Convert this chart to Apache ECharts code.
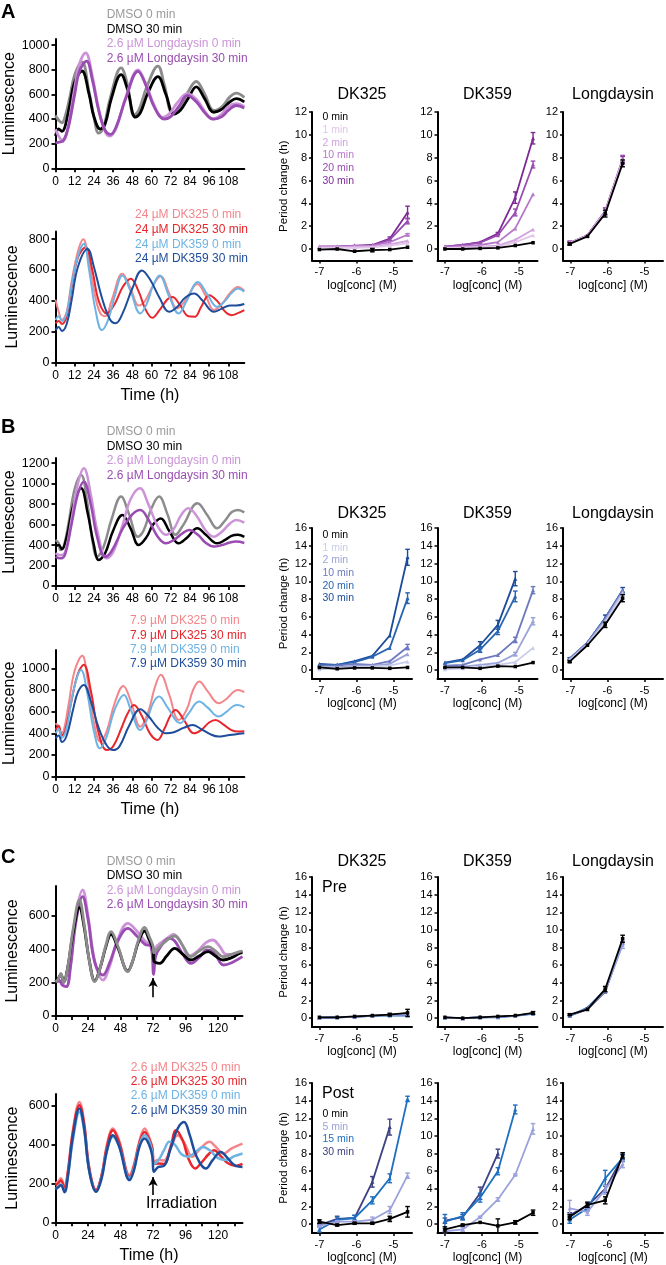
<!DOCTYPE html>
<html><head><meta charset="utf-8">
<script src="https://cdn.jsdelivr.net/npm/echarts@6.0.0/dist/echarts.min.js"></script>
<style>html,body{margin:0;padding:0;background:#fff;}#chart{width:666px;height:1265px;}</style>
</head><body><div id="chart"></div>
<script>
// ---------------- DATA ----------------
// Time series (time h, luminescence)
const aTopDmso0 = [[0,430],[2,390],[4,370],[6,420],[9,580],[12,760],[16.5,865],[21,620],[24,420],[27,285],[30,330],[34,560],[41,815],[45,680],[49,430],[52,470],[57,660],[64,830],[68,680],[73,455],[77,480],[82,600],[88,705],[93,610],[99,470],[104,500],[109,580],[113,610],[118,575]];
const aTopDmso30 = [[0,262],[2,320],[4,300],[6,340],[9,520],[12,700],[16.5,790],[21,600],[24,420],[28,318],[31,360],[35,570],[41,760],[45,640],[50,415],[53,450],[58,620],[64,745],[69,600],[74,440],[78,470],[83,570],[88,662],[93,570],[99,455],[104,480],[109,540],[113,566],[118,540]];
const aTopLd0 = [[0,317],[3,240],[5,230],[8,350],[12,650],[15,850],[18.8,938],[23,750],[27,480],[31,300],[34,262],[38,330],[44,580],[51.6,800],[56,700],[62,500],[67,414],[71,440],[76,530],[82.5,607],[88,560],[94,450],[98,400],[103,430],[108,500],[113,524],[118,500]];
const aTopLd30 = [[0,207],[3,215],[5,225],[8,330],[12,600],[15,790],[19.4,870],[23,720],[27,470],[31,310],[34.4,276],[38,340],[44,570],[51.6,787],[56,690],[62,490],[68,400],[72,420],[77,500],[82.5,593],[88,540],[94,440],[99,400],[104,420],[108,470],[113,510],[118,490]];

const aBotDK325_0 = [[0,408],[2,330],[4,275],[7,330],[10,520],[14,720],[17.3,800],[21,650],[25,420],[28,320],[31,300],[35,400],[41.8,576],[47,480],[52,370],[56,400],[61,500],[65.7,560],[71,450],[76,350],[81,400],[88.7,510],[94,430],[99,340],[104,380],[109,450],[114,490],[118,465]];
const aBotDK325_30 = [[0,254],[2,270],[4,250],[7,300],[10,480],[14,680],[18.8,748],[23,600],[27,400],[32,318],[37,380],[42,490],[47,544],[52,460],[56,350],[60.5,290],[65,340],[70,410],[73,425],[78,370],[83,300],[87,297],[91,360],[96,436],[101,400],[106,330],[110,307],[114,320],[118,340]];
const aBotDK359_0 = [[0,275],[2,300],[4,270],[7,320],[10,500],[14,690],[17.7,770],[21,600],[25,340],[29,210],[33,280],[37,430],[41.8,565],[47,460],[53,318],[57,380],[61,500],[65,565],[71,430],[77,318],[82,400],[89,522],[95,440],[101,361],[106,400],[110,450],[114,480],[118,460]];
const aBotDK359_30 = [[0,210],[2,230],[4,205],[7,250],[10,400],[14,620],[20,737],[24,620],[29,420],[34,280],[37.6,254],[42,320],[48,480],[54,597],[59,540],[65,420],[71,329],[76,360],[81,420],[86.6,447],[92,400],[99,329],[104,350],[109,370],[113,370],[118,380]];

const bTopDmso0 = [[0,450],[2,420],[3,352],[5,380],[8,600],[12,950],[16,1086],[20,800],[23,450],[26,287],[30,380],[35,650],[41,874],[46,700],[51.5,482],[55,540],[60,760],[64.7,874],[70,700],[75,500],[80,600],[88.7,808],[95,690],[101,564],[106,640],[110,720],[114,743],[118,720]];
const bTopDmso30 = [[0,385],[2,400],[4,360],[7,480],[11,780],[16,955],[20,720],[24,400],[27,254],[31,320],[36,540],[41.8,694],[47,560],[52,400],[57,480],[61,600],[65.8,660],[71,540],[77,417],[82,470],[88.7,564],[94,500],[101,417],[106,450],[110,490],[114,500],[118,480]];
const bTopLd0 = [[0,320],[3,300],[6,330],[10,650],[14,1000],[17.7,1150],[22,900],[26,550],[32,270],[36,330],[42,600],[47,850],[52.8,955],[58,800],[64,580],[69,500],[74,560],[78,680],[83,760],[88,690],[94,540],[99,482],[104,530],[109,610],[113,645],[118,620]];
const bTopLd30 = [[0,287],[3,270],[6,310],[10,600],[14,900],[17.7,1020],[22,800],[26,480],[31,287],[35,340],[42,560],[48,700],[53,743],[58,650],[64,480],[69,417],[74,450],[79,510],[83.5,548],[89,500],[94,420],[99,385],[104,400],[109,425],[113,434],[118,420]];

const bBotDK325_0 = [[0,493],[2,460],[3,400],[5,420],[8,650],[12,980],[16.7,1115],[20,900],[24,500],[28,323],[32,420],[37,680],[42.4,838],[47,700],[53,462],[58,600],[62,820],[65.8,940],[71,760],[77,524],[82,620],[86,800],[89.8,878],[95,790],[102,678],[107,720],[111,780],[114,800],[118,780]];
const bBotDK325_30 = [[0,431],[2,470],[4,380],[6,420],[10,700],[14,950],[17.7,1032],[22,800],[27,400],[32,246],[36,280],[41,440],[45,580],[49,662],[54,560],[59,400],[63.7,339],[68,440],[72,570],[75,616],[80,530],[86.6,400],[91,430],[96,500],[100,524],[105,480],[110,430],[114,416],[118,420]];
const bBotDK359_0 = [[0,400],[2,440],[4,360],[7,450],[11,780],[16,985],[20,760],[24,420],[27.8,262],[32,370],[37,620],[42.8,755],[47,620],[53,431],[57,520],[61,680],[64.7,740],[70,640],[78,493],[83,580],[89.8,693],[95,640],[102,555],[107,600],[111,650],[114,662],[118,640]];
const bBotDK359_30 = [[0,354],[2,380],[4,320],[7,380],[11,620],[14,780],[17.7,847],[22,700],[27,450],[32,290],[36,246],[40,280],[46,470],[53,622],[58,560],[64,450],[69,400],[74,410],[80,450],[85.6,477],[91,440],[97,390],[102,370],[107,380],[112,390],[118,400]];

const cTopDmso0 = [[0,206],[2,220],[4,256],[6,200],[9,290],[13,520],[17.7,696],[21,560],[25,330],[29,206],[33,290],[37,420],[41,506],[46,420],[53.4,266],[57,330],[61,450],[65.8,532],[69,480],[72,420],[72.6,380],[75,400],[80,440],[88,480],[94,420],[100,356],[106,390],[112.6,416],[118,390],[123.6,356],[130,370],[136,386],[138,390]];
const cTopDmso30 = [[0,206],[2,225],[4,250],[6,205],[9,290],[13,500],[17.7,650],[21,540],[25,330],[29,210],[33,290],[37,410],[41,490],[46,410],[53.4,270],[57,330],[61,440],[65.8,510],[69,460],[72,400],[72.6,330],[74,320],[77,316],[82,360],[88,406],[94,370],[100,336],[106,360],[112.6,386],[118,360],[123.6,336],[130,350],[136,376],[138,380]];
const cTopLd0 = [[0,206],[3,215],[5,190],[8,176],[11,300],[15,600],[20,756],[24,600],[29,330],[35,216],[40,300],[46,460],[53.4,556],[60,510],[66,450],[70.5,420],[72.4,330],[74,410],[78,440],[83,470],[87,490],[92,450],[99,360],[105,390],[111,440],[116,456],[121,420],[126,370],[132,370],[138,390]];
const cTopLd30 = [[0,206],[3,210],[5,185],[8,176],[11,290],[15,560],[20,716],[24,580],[29,320],[35,246],[40,320],[46,450],[53.4,526],[60,480],[66,430],[70.5,416],[72.4,250],[74,360],[78,420],[84,466],[88,450],[94,370],[100,316],[106,350],[112,396],[117,380],[124,306],[130,320],[138,356]];

const cBotDK325_0 = [[0,200],[2,210],[4,226],[6.7,183],[9,260],[13,480],[17.7,619],[21,520],[25,280],[30,166],[34,240],[38,400],[42.4,482],[47,420],[54.7,243],[58,300],[62,420],[65.8,482],[69,440],[71.5,380],[72.5,311],[76,320],[80,318],[85,380],[90,448],[95,410],[101,337],[107,380],[113.8,414],[118,390],[124,354],[130,380],[138,405]];
const cBotDK325_30 = [[0,190],[2,200],[4,215],[6.7,175],[9,250],[13,470],[17.7,602],[21,510],[25,270],[30,166],[34,240],[38,390],[42.4,474],[47,410],[54.7,234],[58,290],[62,410],[65.8,465],[69,430],[71.5,380],[72.5,300],[76,303],[80,300],[85,390],[89,474],[94,420],[98,330],[103,277],[108,310],[113,350],[117,371],[122,340],[127,305],[133,290],[138,300]];
const cBotDK359_0 = [[0,170],[2,185],[4,195],[6.7,160],[9,230],[13,430],[17.7,568],[21,480],[25,260],[30,157],[34,230],[38,370],[42.4,440],[47,390],[54.7,226],[58,280],[62,400],[65.8,448],[69,420],[71.5,360],[72.5,300],[76,320],[80,370],[84,414],[88,400],[93,350],[98,337],[103,360],[109,388],[114,370],[120,330],[126,320],[132,340],[138,354]];
const cBotDK359_30 = [[0,170],[2,180],[4,190],[6.7,155],[9,230],[13,450],[17.7,585],[21,490],[25,260],[30,157],[34,225],[38,370],[42.4,448],[47,390],[54.7,217],[58,270],[62,390],[65.8,431],[69,400],[71.5,340],[72.5,260],[76,285],[80,290],[85,380],[90,480],[94.8,516],[99,450],[104,340],[111,277],[116,320],[122,362],[127,330],[133,290],[138,285]];

// arrows: [time, tail value, head value]
const cTopArrow = [72, 112, 228];
const cBotArrow = [72, 140, 233];

// tick values
const timeTicksAB = [0,12,24,36,48,60,72,84,96,108];
const timeTicksC = [0,12,24,36,48,60,72,84,96,108,120,132];
const timeLabelsC = [0,24,48,72,96,120];
const lumTicksA1 = [0,200,400,600,800,1000];
const lumTicksA2 = [0,200,400,600,800];
const lumTicksB1 = [0,200,400,600,800,1000,1200];
const lumTicksB2 = [0,200,400,600,800,1000];
const lumTicksC = [0,200,400,600];

// dose-response
const concDK = [-7.0, -6.52, -6.05, -5.57, -5.1, -4.62];
const concLd = [-7.02, -6.54, -6.06, -5.59];
const logTicks = [-7, -6, -5];
const periodTicks12 = [0,2,4,6,8,10,12];
const periodTicks16 = [0,2,4,6,8,10,12,14,16];
const minLabelsAB = ['0 min','1 min','2 min','10 min','20 min','30 min'];
const minLabelsC = ['0 min','5 min','15 min','30 min'];

const aDK325 = [[-0.05,0.0,-0.2,-0.1,-0.05,0.15],[0.1,0.1,0.1,0.15,0.3,0.5],[0.15,0.15,0.2,0.2,0.4,0.7],[0.2,0.2,0.25,0.3,0.6,1.25],[0.2,0.2,0.25,0.3,0.8,2.45],[0.2,0.2,0.3,0.35,0.9,3.2]];
const aDK325Err = [[0,0,0,0.15,0,0],[0,0,0,0,0,0],[0,0,0,0,0,0],[0,0,0,0,0,0.1],[0,0,0,0,0,0.25],[0,0,0,0,0.15,0.55]];
const aDK359 = [[0.0,0.0,0.05,0.1,0.3,0.55],[0.1,0.1,0.15,0.2,0.6,1.2],[0.1,0.15,0.2,0.3,0.8,1.7],[0.15,0.25,0.35,0.6,1.8,4.8],[0.2,0.35,0.55,1.2,3.2,7.4],[0.2,0.35,0.6,1.35,4.5,9.7]];
const aDK359Err = [[0,0,0,0,0,0],[0,0,0,0,0,0],[0,0,0,0,0,0],[0,0,0,0,0,0],[0,0,0,0,0.3,0.3],[0,0,0,0.1,0.5,0.5]];
const aLd = [[0.45,1.1,3.1,7.5],[0.5,1.15,3.2,7.7],[0.5,1.15,3.25,7.8],[0.55,1.2,3.3,7.8],[0.55,1.2,3.3,7.9],[0.5,1.2,3.3,7.8]];
const aLdErr = [[0.1,0,0.3,0.3],[0,0,0,0],[0,0,0,0],[0,0,0,0],[0.15,0,0.3,0.3],[0.15,0,0.3,0.3]];

const bDK325 = [[0.3,0.15,0.25,0.25,0.2,0.3],[0.1,0.2,0.3,0.4,0.5,0.95],[0.3,0.3,0.5,0.5,0.7,1.8],[0.5,0.5,0.7,0.6,1.0,2.6],[0.6,0.6,0.9,1.5,2.5,8.1],[0.7,0.6,1.0,1.6,3.9,12.7]];
const bDK325Err = [[0,0,0,0,0,0],[0,0,0,0,0,0],[0,0,0,0,0,0],[0,0,0,0,0,0.3],[0,0,0,0,0,0.6],[0,0,0,0,0,0.9]];
const bDK359 = [[0.3,0.3,0.2,0.45,0.4,0.85],[0.1,0.2,0.4,0.6,0.9,2.5],[0.3,0.4,0.6,0.8,1.8,5.5],[0.5,0.6,1.2,1.7,3.4,9.0],[0.8,1.1,2.3,4.4,8.3,null],[0.85,1.2,2.8,5.1,10.3,null]];
const bDK359Err = [[0,0,0,0,0,0],[0,0,0,0,0,0],[0,0,0,0,0.2,0.4],[0,0,0,0,0.3,0.4],[0,0,0.3,0.4,0.6,0],[0,0,0.4,0.5,0.8,0]];
const bLd = [[0.95,2.8,5.1,8.1],[1.1,2.9,5.4,8.6],[1.2,3.0,5.6,8.8],[1.3,3.1,5.8,9.0],[1.3,3.1,5.8,9.0],[1.3,3.1,5.9,9.0]];
const bLdErr = [[0.1,0,0.3,0.4],[0,0,0,0],[0,0,0,0],[0,0,0,0],[0,0,0,0],[0.1,0,0.3,0.3]];

const cPre325 = [[0.1,0.1,0.2,0.3,0.4,0.6],[0.05,0.1,0.15,0.25,0.35,0.4],[0.05,0.1,0.15,0.25,0.3,0.3],[0.05,0.1,0.15,0.3,0.4,0.5]];
const cPre325Err = [[0,0,0,0,0.15,0.4],[0,0,0,0,0,0],[0,0,0,0,0,0],[0,0,0,0,0,0]];
const cPre359 = [[0.1,0.0,0.1,0.2,0.3,0.6],[0.05,0,0.1,0.15,0.25,0.55],[0.05,0,0.1,0.1,0.25,0.5],[0.05,0,0.1,0.15,0.3,0.55]];
const cPre359Err = [[0,0,0,0,0,0.15],[0,0,0,0,0,0],[0,0,0,0,0,0],[0,0,0,0,0,0]];
const cPreLd = [[0.4,1.0,3.3,9.0],[0.3,1.1,3.1,8.3],[0.25,1.2,3.2,8.5],[0.3,1.0,3.0,8.6]];
const cPreLdErr = [[0.1,0,0.3,0.4],[0,0,0.2,0.4],[0,0,0,0],[0,0,0,0]];

const cPost325 = [[0.3,-0.1,0.1,0.1,0.6,1.4],[-0.2,0.3,0.3,0.5,1.6,5.5],[-0.6,0.5,0.7,2.7,5.2,14.2],[-0.1,0.6,0.7,4.8,11.0,null]];
const cPost325Err = [[0.2,0.1,0.1,0.1,0.3,0.6],[0.1,0.1,0.1,0.3,0.4,0.3],[0.3,0.3,0.3,0.4,0.5,0.3],[0.1,0.3,0.3,0.6,0.9,0]];
const cPost359 = [[-0.6,-0.1,0.2,-0.2,0.2,1.3],[-0.8,-0.6,0.8,2.8,5.6,10.8],[0.3,0.9,3.0,6.0,13.0,null],[0.4,0.8,3.5,8.0,null,null]];
const cPost359Err = [[0.3,0.1,0,0.8,0.2,0.3],[0.1,0.2,0.1,0.2,0.1,0.6],[0.8,0.4,0.5,0.4,0.5,0],[0.3,0.3,0.7,0.5,0,0]];
const cPostLd = [[0.8,2.2,2.7,7.8],[1.8,1.4,3.9,6.8],[0.5,1.8,5.2,7.5],[1.0,2.1,4.0,7.6]];
const cPostLdErr = [[0.3,0.3,0.4,0.3],[0.9,0.4,0.5,0.4],[0.4,0.3,0.9,0.4],[0.3,0.3,0.4,0.3]];

// ---------------- STYLE ----------------
const FONT = "'Liberation Sans', Arial, Helvetica, sans-serif";
const GRAY = '#8c8c8c', BLACK = '#000000', LPUR = '#cc93d8', DPUR = '#9a4cb3';
const PINK = '#f4868b', RED = '#e8262c', LBLUE = '#6db4e4', DBLUE = '#1e4d9b';
const colorsA = ['#000000','#e2c6ea','#d3a3df','#b678c9','#9a4cb2','#7d2a98'];
const colorsB = ['#000000','#c9cdea','#9ca3d8','#6d7ac0','#2865b2','#1b4b99'];
const colorsC = ['#000000','#9ca2dc','#1e6fc2','#3e4182'];
const plain = v => String(v);

const grids = [], xAxes = [], yAxes = [], series = [], graphics = [];

function addLeft(p) {
  const gi = grids.length;
  grids.push({left:p.left, top:p.top, width:p.width, height:p.height, containLabel:false});
  xAxes.push({
    type:'value', gridIndex:gi, min:0, max:p.xMax,
    name:p.xName || '', nameLocation:'middle', nameGap:25,
    nameTextStyle:{fontSize:16, color:'#000', fontFamily:FONT},
    axisLine:{show:true, onZero:false, lineStyle:{color:'#000', width:2}},
    axisTick:{show:true, inside:false, length:4, customValues:p.xTicks, lineStyle:{color:'#000', width:1.8}},
    axisLabel:{show:true, customValues:p.xLabels, formatter:plain, margin:7, fontSize:12, color:'#000', fontFamily:FONT, hideOverlap:false},
    splitLine:{show:false}
  });
  yAxes.push({
    type:'value', gridIndex:gi, min:0, max:p.yMax,
    name:'Luminescence', nameLocation:'middle', nameGap:35,
    nameTextStyle:{fontSize:16, color:'#000', fontFamily:FONT},
    axisLine:{show:true, onZero:false, lineStyle:{color:'#000', width:2}},
    axisTick:{show:true, length:4, customValues:p.yTicks, lineStyle:{color:'#000', width:1.8}},
    axisLabel:{show:true, customValues:p.yTicks, formatter:plain, margin:6, fontSize:12.5, color:'#000', fontFamily:FONT, hideOverlap:false},
    splitLine:{show:false}
  });
  p.series.forEach((s, k) => {
    const ser = {type:'line', xAxisIndex:gi, yAxisIndex:gi, data:s.data, smooth:0.4, symbol:'none',
      lineStyle:{color:s.color, width:p.lw}, itemStyle:{color:s.color}, z:(s.z || (2 + k)), silent:true};
    if (k === 0 && p.arrow) {
      ser.markLine = {silent:true, animation:false, symbol:['none','arrow'], symbolSize:[7,9],
        lineStyle:{color:'#000', width:1.6, type:'solid'}, label:{show:false},
        data:[[{coord:[p.arrow[0], p.arrow[1]]}, {coord:[p.arrow[0], p.arrow[2]]}]]};
    }
    series.push(ser);
  });
  p.legend.forEach((t, k) => {
    graphics.push({type:'text', x:p.legendX, y:p.legendY + k * p.legendStep, z:100,
      style:{text:t, fill:p.series[k].text || p.series[k].color, font:'12px ' + FONT, align:'left', verticalAlign:'middle'}});
  });
  return gi;
}

function errRender(color) {
  return function (params, api) {
    const x = api.value(0), y = api.value(1), e = api.value(2);
    const a = api.coord([x, y - e]), b = api.coord([x, y + e]);
    const w = 2.3;
    const st = {stroke:color, lineWidth:1.4};
    return {type:'group', children:[
      {type:'line', shape:{x1:a[0], y1:a[1], x2:b[0], y2:b[1]}, style:st},
      {type:'line', shape:{x1:a[0]-w, y1:a[1], x2:a[0]+w, y2:a[1]}, style:st},
      {type:'line', shape:{x1:b[0]-w, y1:b[1], x2:b[0]+w, y2:b[1]}, style:st}
    ]};
  };
}

function addSmall(p) {
  const gi = grids.length;
  grids.push({left:p.left, top:p.top, width:100, height:p.height, containLabel:false});
  xAxes.push({
    type:'value', gridIndex:gi, min:-7.2, max:-4.5,
    name:'log[conc] (M)', nameLocation:'middle', nameGap:19,
    nameTextStyle:{fontSize:12, color:'#000', fontFamily:FONT},
    axisLine:{show:true, onZero:false, lineStyle:{color:'#000', width:2}},
    axisTick:{show:true, length:3, customValues:logTicks, lineStyle:{color:'#000', width:1.5}},
    axisLabel:{show:true, customValues:logTicks, formatter:plain, margin:6, fontSize:11, color:'#000', fontFamily:FONT, hideOverlap:false},
    splitLine:{show:false}
  });
  yAxes.push({
    type:'value', gridIndex:gi, min:-1, max:p.yMax,
    name:p.yName || '', nameLocation:'middle', nameGap:22,
    nameTextStyle:{fontSize:11.5, color:'#000', fontFamily:FONT},
    axisLine:{show:true, onZero:false, lineStyle:{color:'#000', width:2}},
    axisTick:{show:true, length:3, customValues:p.yTicks, lineStyle:{color:'#000', width:1.5}},
    axisLabel:{show:true, customValues:p.yTicks, formatter:plain, margin:5, fontSize:11, color:'#000', fontFamily:FONT, hideOverlap:false},
    splitLine:{show:false}
  });
  const n = p.data.length;
  for (let i = n - 1; i >= 0; i--) {
    const col = p.colors[i];
    const pts = [], errs = [];
    p.data[i].forEach((v, j) => {
      if (v === null) return;
      pts.push([p.xs[j], v]);
      const e = p.err[i][j];
      if (e > 0) errs.push([p.xs[j], v, e]);
    });
    series.push({type:'line', xAxisIndex:gi, yAxisIndex:gi, data:pts, symbol:i === 0 ? 'rect' : 'triangle',
      symbolSize:i === 0 ? 3.5 : 4, lineStyle:{color:col, width:1.8}, itemStyle:{color:col}, z:10 + (n - i), silent:true});
    if (errs.length) {
      series.push({type:'custom', xAxisIndex:gi, yAxisIndex:gi, data:errs, renderItem:errRender(col), z:10 + (n - i), silent:true});
    }
  }
  if (p.title) {
    graphics.push({type:'text', x:p.left + 50, y:p.titleY, z:100,
      style:{text:p.title, fill:'#000', font:'16px ' + FONT, align:'center', verticalAlign:'middle'}});
  }
  if (p.tag) {
    graphics.push({type:'text', x:p.left + 10, y:p.tagY, z:100,
      style:{text:p.tag, fill:'#000', font:'16px ' + FONT, align:'left', verticalAlign:'middle'}});
  }
  if (p.legend) {
    p.legend.forEach((t, k) => {
      graphics.push({type:'text', x:p.left + 10.5, y:p.legendY + k * p.legendStep, z:100,
        style:{text:t, fill:p.colors[k], font:'10.5px ' + FONT, align:'left', verticalAlign:'middle'}});
    });
  }
  return gi;
}

// ---------------- LEFT PANELS ----------------
const L = 55.5;
addLeft({left:L, top:39, width:188.8, height:129.3, xMax:118, yMax:1050, xTicks:timeTicksAB, xLabels:timeTicksAB, yTicks:lumTicksA1, lw:2.8,
  series:[{data:aTopDmso0, color:GRAY, text:'#9a9a9a'}, {data:aTopDmso30, color:BLACK}, {data:aTopLd0, color:LPUR}, {data:aTopLd30, color:DPUR}],
  legend:['DMSO 0 min','DMSO 30 min','2.6 µM Longdaysin 0 min','2.6 µM Longdaysin 30 min'], legendX:106.7, legendY:14.7, legendStep:14.6});
addLeft({left:L, top:231.5, width:188.8, height:131, xMax:118, yMax:850, xTicks:timeTicksAB, xLabels:timeTicksAB, yTicks:lumTicksA2, lw:2, xName:'Time (h)',
  series:[{data:aBotDK325_0, color:PINK}, {data:aBotDK325_30, color:RED}, {data:aBotDK359_0, color:LBLUE}, {data:aBotDK359_30, color:DBLUE}],
  legend:['24 µM DK325 0 min','24 µM DK325 30 min','24 µM DK359 0 min','24 µM DK359 30 min'], legendX:135, legendY:215, legendStep:14.7});
addLeft({left:L, top:458.1, width:188.8, height:127.9, xMax:118, yMax:1250, xTicks:timeTicksAB, xLabels:timeTicksAB, yTicks:lumTicksB1, lw:2.5,
  series:[{data:bTopDmso0, color:GRAY, text:'#9a9a9a'}, {data:bTopDmso30, color:BLACK}, {data:bTopLd0, color:LPUR}, {data:bTopLd30, color:DPUR}],
  legend:['DMSO 0 min','DMSO 30 min','2.6 µM Longdaysin 0 min','2.6 µM Longdaysin 30 min'], legendX:106.7, legendY:432, legendStep:14.5});
addLeft({left:L, top:649.9, width:188.8, height:126.8, xMax:118, yMax:1170, xTicks:timeTicksAB, xLabels:timeTicksAB, yTicks:lumTicksB2, lw:2, xName:'Time (h)',
  series:[{data:bBotDK325_0, color:PINK}, {data:bBotDK325_30, color:RED}, {data:bBotDK359_0, color:LBLUE}, {data:bBotDK359_30, color:DBLUE}],
  legend:['7.9 µM DK325 0 min','7.9 µM DK325 30 min','7.9 µM DK359 0 min','7.9 µM DK359 30 min'], legendX:130, legendY:621, legendStep:14.3});
addLeft({left:L, top:886, width:187, height:130, xMax:138, yMax:780, xTicks:timeTicksC, xLabels:timeLabelsC, yTicks:lumTicksC, lw:2.8, arrow:cTopArrow,
  series:[{data:cTopDmso0, color:GRAY, text:'#9a9a9a', z:6}, {data:cTopDmso30, color:BLACK, z:5}, {data:cTopLd0, color:LPUR, z:3}, {data:cTopLd30, color:DPUR, z:4}],
  legend:['DMSO 0 min','DMSO 30 min','2.6 µM Longdaysin 0 min','2.6 µM Longdaysin 30 min'], legendX:106.7, legendY:861.7, legendStep:14.3});
const cBotGi = addLeft({left:L, top:1094, width:187, height:128.3, xMax:138, yMax:660, xTicks:timeTicksC, xLabels:timeLabelsC, yTicks:lumTicksC, lw:2.5, xName:'Time (h)', arrow:cBotArrow,
  series:[{data:cBotDK325_0, color:PINK}, {data:cBotDK325_30, color:RED}, {data:cBotDK359_0, color:LBLUE}, {data:cBotDK359_30, color:DBLUE}],
  legend:['2.6 µM DK325 0 min','2.6 µM DK325 30 min','2.6 µM DK359 0 min','2.6 µM DK359 30 min'], legendX:130.7, legendY:1067.3, legendStep:14.3});

// ---------------- RIGHT PANELS ----------------
const RX = [312, 437.5, 563];
// A
addSmall({left:RX[0], top:112, height:148.4, yMax:12, yTicks:periodTicks12, xs:concDK, data:aDK325, err:aDK325Err, colors:colorsA, yName:'Period change (h)', title:'DK325', titleY:95, legend:minLabelsAB, legendY:117.3, legendStep:12.7});
addSmall({left:RX[1], top:112, height:148.4, yMax:12, yTicks:periodTicks12, xs:concDK, data:aDK359, err:aDK359Err, colors:colorsA, title:'DK359', titleY:95});
addSmall({left:RX[2], top:112, height:148.4, yMax:12, yTicks:periodTicks12, xs:concLd, data:aLd, err:aLdErr, colors:colorsA, title:'Longdaysin', titleY:95});
// B
addSmall({left:RX[0], top:528, height:151, yMax:16, yTicks:periodTicks16, xs:concDK, data:bDK325, err:bDK325Err, colors:colorsB, yName:'Period change (h)', title:'DK325', titleY:513.3, legend:minLabelsAB, legendY:535, legendStep:12.7});
addSmall({left:RX[1], top:528, height:151, yMax:16, yTicks:periodTicks16, xs:concDK, data:bDK359, err:bDK359Err, colors:colorsB, title:'DK359', titleY:513.3});
addSmall({left:RX[2], top:528, height:151, yMax:16, yTicks:periodTicks16, xs:concLd, data:bLd, err:bLdErr, colors:colorsB, title:'Longdaysin', titleY:513.3});
// C pre
addSmall({left:RX[0], top:877, height:150, yMax:16, yTicks:periodTicks16, xs:concDK, data:cPre325, err:cPre325Err, colors:colorsC, yName:'Period change (h)', title:'DK325', titleY:862, tag:'Pre', tagY:888});
addSmall({left:RX[1], top:877, height:150, yMax:16, yTicks:periodTicks16, xs:concDK, data:cPre359, err:cPre359Err, colors:colorsC, title:'DK359', titleY:862});
addSmall({left:RX[2], top:877, height:150, yMax:16, yTicks:periodTicks16, xs:concLd, data:cPreLd, err:cPreLdErr, colors:colorsC, title:'Longdaysin', titleY:862});
// C post
addSmall({left:RX[0], top:1083, height:150, yMax:16, yTicks:periodTicks16, xs:concDK, data:cPost325, err:cPost325Err, colors:colorsC, yName:'Period change (h)', tag:'Post', tagY:1094, legend:minLabelsC, legendY:1114.3, legendStep:12.5});
addSmall({left:RX[1], top:1083, height:150, yMax:16, yTicks:periodTicks16, xs:concDK, data:cPost359, err:cPost359Err, colors:colorsC});
addSmall({left:RX[2], top:1083, height:150, yMax:16, yTicks:periodTicks16, xs:concLd, data:cPostLd, err:cPostLdErr, colors:colorsC});

// panel letters
[['A', 12.7], ['B', 427.8], ['C', 857.5]].forEach(([t, y]) => {
  graphics.push({type:'text', x:1, y:y, z:100, style:{text:t, fill:'#000', font:'bold 20px ' + FONT, align:'left', verticalAlign:'middle'}});
});

const chart = echarts.init(document.getElementById('chart'), null, {renderer:'canvas'});
chart.setOption({
  animation:false,
  backgroundColor:'#ffffff',
  textStyle:{fontFamily:FONT},
  grid:grids, xAxis:xAxes, yAxis:yAxes, series:series, graphic:graphics
});
// "Irradiation" label anchored at the arrow tail of the lower C panel
const tail = chart.convertToPixel({gridIndex:cBotGi}, [cBotArrow[0], cBotArrow[1]]);
graphics.push({type:'text', x:tail[0] - 7, y:tail[1] + 9, z:100,
  style:{text:'Irradiation', fill:'#000', font:'16px ' + FONT, align:'left', verticalAlign:'middle'}});
chart.setOption({graphic:graphics});
</script></body></html>
